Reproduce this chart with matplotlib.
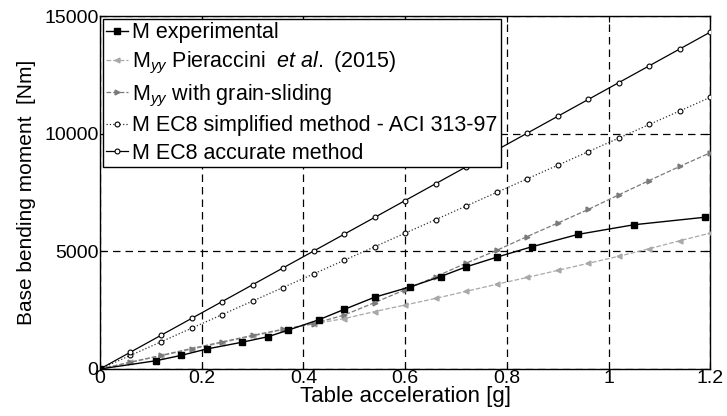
import matplotlib
matplotlib.use("Agg")
import matplotlib.pyplot as plt

plt.rcParams['font.family'] = ['Liberation Sans', 'DejaVu Sans']
plt.rcParams['mathtext.fontset'] = 'custom'
plt.rcParams['mathtext.rm'] = 'Liberation Sans'
plt.rcParams['mathtext.it'] = 'Liberation Sans:italic'

# experimental measurements
acc_exp = [0, 0.11, 0.16, 0.21, 0.28, 0.33, 0.37, 0.43, 0.48, 0.54, 0.61,
           0.67, 0.72, 0.78, 0.85, 0.94, 1.05, 1.19]
m_exp = [0, 350, 580, 850, 1140, 1370, 1650, 2090, 2530, 3050, 3490,
         3930, 4340, 4750, 5200, 5720, 6130, 6450]

# analytical curves, sampled every 0.06 g
acc_model = [0, 0.06, 0.12, 0.18, 0.24, 0.30, 0.36, 0.42, 0.48, 0.54, 0.60,
             0.66, 0.72, 0.78, 0.84, 0.90, 0.96, 1.02, 1.08, 1.14, 1.20]
m_pieraccini = [0, 280, 560, 840, 1120, 1400, 1670, 1920, 2140, 2440, 2720,
                3000, 3300, 3600, 3890, 4190, 4490, 4790, 5110, 5450, 5775]
m_grain = [0, 290, 580, 870, 1150, 1430, 1690, 1930, 2290, 2820, 3370,
           3920, 4500, 5040, 5630, 6200, 6780, 7400, 8010, 8610, 9190]
m_ec8_simpl = [0, 577, 1154, 1732, 2309, 2886, 3463, 4040, 4618, 5195, 5772,
               6349, 6926, 7504, 8081, 8658, 9235, 9812, 10390, 10967, 11544]
m_ec8_acc = [0, 716, 1432, 2147, 2863, 3579, 4295, 5011, 5726, 6442, 7158,
             7874, 8590, 9305, 10021, 10737, 11453, 12169, 12884, 13600, 14316]

labels = [
    'M experimental',
    r'M$_{\it yy}$ Pieraccini  $\it et\ al.$ (2015)',
    r'M$_{\it yy}$ with grain-sliding',
    'M EC8 simplified method - ACI 313-97',
    'M EC8 accurate method',
]

fig = plt.figure(figsize=(7.27, 4.16), dpi=100)
ax = fig.add_axes([0.1375, 0.113, 0.8395, 0.8485])

ax.plot(acc_exp, m_exp, '-', color='black', lw=1.0, marker='s',
        ms=5, mfc='black', label=labels[0], zorder=5)
ax.plot(acc_model, m_pieraccini, '--', color='#a8a8a8', lw=0.9, marker='<',
        ms=3.5, mfc='#a8a8a8', mec='#a8a8a8', label=labels[1], zorder=3)
ax.plot(acc_model, m_grain, '--', color='#7a7a7a', lw=0.9, marker='>',
        ms=3.5, mfc='#7a7a7a', mec='#7a7a7a', label=labels[2], zorder=3)
ax.plot(acc_model, m_ec8_simpl, ':', color='#333333', lw=0.9, marker='o',
        ms=3.5, mfc='white', mec='black', mew=0.8, label=labels[3], zorder=4)
ax.plot(acc_model, m_ec8_acc, '-', color='black', lw=0.9, marker='o',
        ms=3.5, mfc='white', mec='black', mew=0.8, label=labels[4], zorder=4)

ax.set_xlim(0, 1.2)
ax.set_ylim(0, 15000)
ax.set_xticks([0, 0.2, 0.4, 0.6, 0.8, 1.0, 1.2])
ax.set_xticklabels(['0', '0.2', '0.4', '0.6', '0.8', '1', '1.2'])
ax.set_yticks([0, 5000, 10000, 15000])
ax.grid(True, color='black', linestyle=(0, (6, 4)), linewidth=0.9)
ax.tick_params(direction='in', labelsize=14, pad=1, length=4,
               top=True, right=True)
for sp in ax.spines.values():
    sp.set_linewidth(1.0)

ax.set_xlabel('Table acceleration [g]', fontsize=16, labelpad=-1)
ax.set_ylabel('Base bending moment  [Nm]', fontsize=15, labelpad=6)

leg = ax.legend(loc='upper left', fontsize=15.5, handlelength=1.0,
                handletextpad=0.2, borderaxespad=0.15, borderpad=0.15,
                labelspacing=0.3, fancybox=False, framealpha=1,
                edgecolor='black')
leg.get_frame().set_linewidth(1.0)

fig.savefig('out.png', dpi=100)
